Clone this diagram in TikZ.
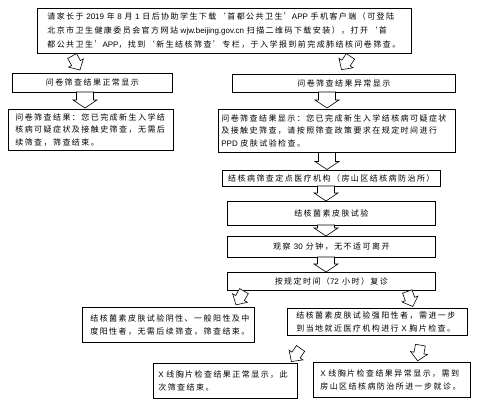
\documentclass[tikz,border=0pt]{standalone}
\usepackage{fontspec}
\setmainfont{Liberation Sans}
\newfontfamily\cjk[LetterSpace=18]{Noto Sans CJK SC}
\newfontfamily\lat{Liberation Sans}
\usetikzlibrary{calc}

\tikzset{
  arrline/.style={draw, line width=0.6pt, fill=white, line join=miter},
  downarr/.pic={\path[arrline] (-#1/2,-8.5) -- (#1/2-8,-8.5) -- (#1/2-8,-12) -- (#1/2,0)
      -- (#1/2-8,12) -- (#1/2-8,8.5) -- (-#1/2,8.5) -- cycle;},
  tiltarr/.pic={\path[arrline] (-8,-5) -- (0,-5) -- (0,-8.5) -- (8,0)
      -- (0,8.5) -- (0,5) -- (-8,5) -- cycle;}
}

\begin{document}
\begin{tikzpicture}[x=1pt, y=-1pt,
    font=\cjk\fontsize{8}{12.5}\selectfont,
    box/.style={draw, line width=0.7pt, inner ysep=0pt, align=center},
    txtbox/.style={draw, line width=0.7pt, inner ysep=0pt, align=left}
  ]
    \fill[white] (0,0) rectangle (477,408);
    \useasboundingbox (0,0) rectangle (477,408);
    % notice from the school
    \node[txtbox, font=\cjk\fontsize{8}{14}\selectfont, anchor=north west,
          text width=354pt, inner xsep=10pt, minimum height=45pt] (notice) at (37,8)
      {请家长于 {\lat 2019} 年 {\lat 8} 月 {\lat 1} 日后协助学生下载‘首都公共卫生’{\lat APP} 手机客户端（可登陆\\
       北京市卫生健康委员会官方网站 {\lat wjw.beijing.gov.cn} 扫描二维码下载安装），打开‘首\\
       都公共卫生’{\lat APP}，找到‘新生结核筛查’专栏，于入学报到前完成肺结核问卷筛查。};
    % questionnaire results
    \node[box, anchor=north west, minimum width=160pt, minimum height=19pt] (normal) at (12,73)
      {问卷筛查结果正常显示};
    \node[box, anchor=north west, minimum width=223pt, minimum height=18pt] (abnormal) at (232,74)
      {问卷筛查结果异常显示};
    \node[txtbox, anchor=north west, text width=151pt, inner xsep=7pt, minimum height=41pt] (normres) at (8,109)
      {问卷筛查结果：您已完成新生入学结\\
       核病可疑症状及接触史筛查，无需后\\
       续筛查，筛查结束。};
    \node[txtbox, anchor=north west, text width=231pt, inner xsep=3pt, minimum height=43pt] (abnres) at (218,109)
      {问卷筛查结果显示：您已完成新生入学结核病可疑症状\\
       及接触史筛查，请按照筛查政策要求在规定时间进行\\
       {\lat PPD} 皮肤试验检查。};
    % PPD steps
    \node[box, anchor=north west, minimum width=218pt, minimum height=16pt] (clinic) at (222,170)
      {结核病筛查定点医疗机构（房山区结核病防治所）};
    \node[box, anchor=north west, minimum width=208pt, minimum height=24pt] (ppd) at (227,201)
      {结核菌素皮肤试验};
    \node[box, anchor=north west, minimum width=208pt, minimum height=21pt] (observe) at (227,236)
      {观察 {\lat 30} 分钟，无不适可离开};
    \node[box, anchor=north west, minimum width=208pt, minimum height=18pt] (revisit) at (227,272)
      {按规定时间（{\lat 72} 小时）复诊};
    % PPD results
    \node[txtbox, anchor=north west, text width=156pt, inner xsep=8pt, minimum height=35pt] (negative) at (82,307)
      {结核菌素皮肤试验阴性、一般阳性及中\\
       度阳性者，无需后续筛查，筛查结束。};
    \node[txtbox, anchor=north west, text width=162pt, inner xsep=9pt, minimum height=27pt] (strong) at (287,308)
      {结核菌素皮肤试验强阳性者，需进一步\\
       到当地就近医疗机构进行 {\lat X} 胸片检查。};
    % X-ray results
    \node[txtbox, anchor=north west, text width=134pt, inner xsep=5pt, minimum height=35pt] (xnormal) at (153,363)
      {{\lat X} 线胸片检查结果正常显示，此\\
       次筛查结束。};
    \node[txtbox, anchor=north west, text width=143pt, inner xsep=7pt, minimum height=35pt] (xabnormal) at (313,362)
      {{\lat X} 线胸片检查结果异常显示，需到\\
       房山区结核病防治所进一步就诊。};
    % block arrows
    \pic[rotate=-61] (a1) at (76,63) {tiltarr};
    \pic[rotate=-124] (a2) at (346,63) {tiltarr};
    \pic[rotate=-90] (a3) at (85,100) {downarr=16};
    \pic[rotate=-90] (a4) at (327,100) {downarr=16};
    \pic[rotate=-90] (a5) at (327,161) {downarr=17};
    \pic[rotate=-90] (a6) at (326,193.5) {downarr=15};
    \pic[rotate=-90] (a7) at (326,230.5) {downarr=11};
    \pic[rotate=-90] (a8) at (326,264.5) {downarr=15};
    \pic[rotate=-120] (a9) at (240,298) {tiltarr};
    \pic[rotate=-70] (a10) at (410,299) {tiltarr};
    \pic[rotate=-125] (a11) at (296,355) {tiltarr};
    \pic[rotate=-100] (a12) at (419,353) {tiltarr};
  \end{tikzpicture}
\end{document}
